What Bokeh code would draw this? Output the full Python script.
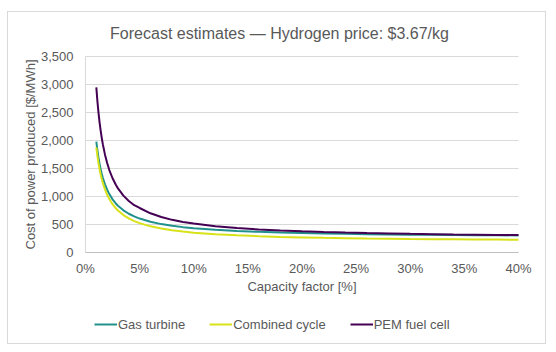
import math
from bokeh.plotting import figure
from bokeh.models import (Range1d, FixedTicker, NumeralTickFormatter, Legend,
                          LegendItem, InlineStyleSheet, Label)
from bokeh.embed import file_html
from bokeh.resources import INLINE

# Capacity factor [%]
cf = [1, 1.1, 1.2, 1.3, 1.4, 1.5, 1.6, 1.8, 2, 2.2, 2.5, 2.8, 3, 3.5, 4, 4.5,
      5, 6, 7, 8, 9, 10, 12, 14, 16, 18, 20, 22, 24, 26, 28, 30, 32, 34, 36,
      38, 40]

# Cost of power produced [$/MWh]
gas_turbine = [1980, 1824, 1694, 1584, 1489, 1407, 1336, 1216, 1121, 1043, 949,
               876, 835, 753, 692, 644, 606, 548, 507, 477, 453, 434, 405, 385,
               369, 357, 348, 340, 334, 328, 323, 319, 316, 313, 310, 307, 305]
combined_cycle = [1878, 1724, 1596, 1487, 1394, 1314, 1243, 1126, 1032, 955,
                  862, 790, 749, 669, 608, 561, 524, 467, 427, 397, 373, 354,
                  326, 306, 291, 279, 270, 262, 256, 250, 245, 241, 238, 235,
                  232, 230, 227]
pem_fuel_cell = [2950, 2704, 2499, 2325, 2177, 2048, 1935, 1747, 1597, 1473,
                 1326, 1210, 1145, 1016, 920, 845, 795, 700, 633, 583, 545, 516,
                 469, 436, 412, 393, 378, 366, 356, 347, 340, 333, 327, 321,
                 317, 314, 311]

series_names = ["Gas turbine", "Combined cycle", "PEM fuel cell"]
x_ticks = [0, 5, 10, 15, 20, 25, 30, 35, 40]
y_ticks = [0, 500, 1000, 1500, 2000, 2500, 3000, 3500]
title_text = "Forecast estimates \u2014 Hydrogen price: $3.67/kg"
x_title = "Capacity factor [%]"
y_title = "Cost of power produced [$/MWh]"

FONT = "Liberation Sans"
TXT = "#595959"
colors = ["#21918c", "#d8e219", "#440154"]

# ---- layout (pixels) ----
W, H = 556, 352
L, R, T, B = 8, 10, 12, 7            # frame covers almost the whole canvas
PLOT_L, PLOT_R = 85, 518              # where 0% and 40% sit
PLOT_T, PLOT_B = 56, 252              # where 3,500 and 0 sit
x0, x1 = x_ticks[0], x_ticks[-1]
y0, y1 = y_ticks[0], y_ticks[-1]
sx = (PLOT_R - PLOT_L) / (x1 - x0)
sy = (PLOT_B - PLOT_T) / (y1 - y0)
x_range = Range1d(x0 - (PLOT_L - L) / sx, x1 + ((W - R) - PLOT_R) / sx)
y_range = Range1d(y0 - ((H - B) - PLOT_B) / sy, y1 + (PLOT_T - T) / sy)

border_css = InlineStyleSheet(css="""
:host::after {
  content: "";
  position: absolute;
  left: 7px; top: 11px; width: 537px; height: 331px;
  border: 1px solid #d9d9d9;
  pointer-events: none;
}
""")

p = figure(width=W, height=H, output_backend="svg", toolbar_location=None,
           x_range=x_range, y_range=y_range,
           min_border_left=L, min_border_right=R, min_border_top=T,
           min_border_bottom=B, stylesheets=[border_css])
p.outline_line_color = None
p.background_fill_color = "white"
p.border_fill_color = "white"

# horizontal gridlines, limited to the plotting area
n = len(y_ticks)
p.segment(x0=[x0] * n, x1=[x1] * n, y0=y_ticks, y1=y_ticks,
          line_color="#d9d9d9", line_width=1)
p.xgrid.grid_line_color = None
p.ygrid.grid_line_color = None

p.xaxis.ticker = FixedTicker(ticks=x_ticks)
p.yaxis.ticker = FixedTicker(ticks=y_ticks)
p.xaxis.formatter = NumeralTickFormatter(format="0")
p.xaxis.major_label_overrides = {t: f"{t}%" for t in x_ticks}
p.yaxis.formatter = NumeralTickFormatter(format="0,0")
p.xaxis.fixed_location = y0
p.yaxis.fixed_location = x0
p.xaxis.bounds = (x0, x1)
p.yaxis.bounds = (y0, y1)

for ax in (p.xaxis, p.yaxis):
    ax.major_tick_line_color = None
    ax.minor_tick_line_color = None
    ax.major_tick_out = 0
    ax.major_label_text_font = FONT
    ax.major_label_text_font_size = "13px"
    ax.major_label_text_color = TXT
    ax.axis_label_text_font = FONT
    ax.axis_label_text_font_size = "13px"
    ax.axis_label_text_font_style = "normal"
    ax.axis_label_text_color = TXT

p.xaxis.axis_line_color = "#bfbfbf"
p.yaxis.axis_line_color = "#d9d9d9"
p.xaxis.major_label_standoff = 8
p.yaxis.major_label_standoff = 12
p.xaxis.axis_label = x_title
p.xaxis.axis_label_standoff = 0
p.yaxis.axis_label = y_title
p.yaxis.axis_label_standoff = 0

renderers = []
for name, ys, c in zip(series_names, [gas_turbine, combined_cycle, pem_fuel_cell], colors):
    r = p.line(cf, ys, line_color=c, line_width=2)
    renderers.append(r)

legend = Legend(items=[LegendItem(label=nm, renderers=[r]) for nm, r in zip(series_names, renderers)],
                orientation="horizontal", location=(94 - L, (H - B) - 334),
                border_line_color=None, background_fill_alpha=0,
                padding=0, margin=0, spacing=24, glyph_width=23, glyph_height=20,
                label_standoff=1, label_height=20,
                label_text_font=FONT, label_text_font_size="13px",
                label_text_color=TXT)
p.add_layout(legend)

p.add_layout(Label(x=279 - L, y=(H - B) - 33, x_units="screen", y_units="screen",
                   text=title_text, text_align="center", text_baseline="middle",
                   text_font=FONT, text_font_size="16px", text_color=TXT))

open("out.html", "w").write(file_html(p, INLINE))
